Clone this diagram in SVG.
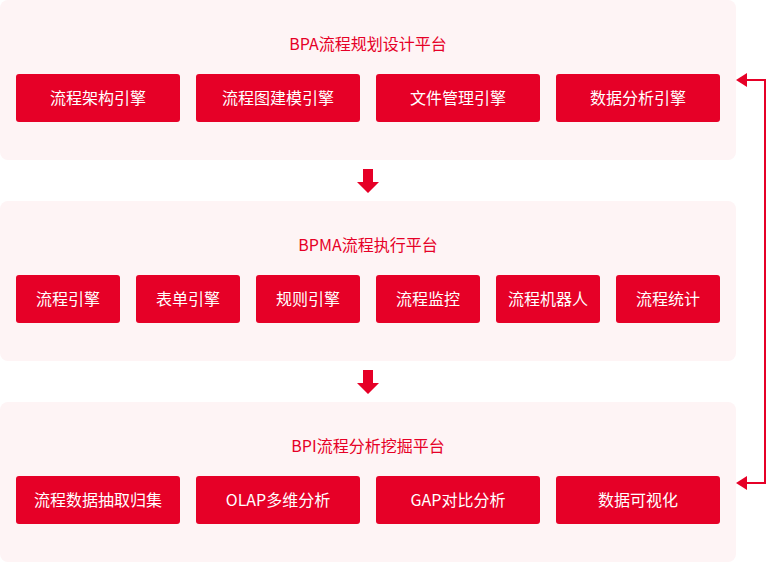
<svg xmlns="http://www.w3.org/2000/svg" width="767" height="563" viewBox="0 0 767 563">
<style>
.panel{fill:#fef4f5}
.box{fill:#e60027}
.title{font-family:"Noto Sans CJK SC","Noto Sans",sans-serif;font-size:16px;fill:#e60027;text-anchor:middle}
.lbl{font-family:"Noto Sans CJK SC","Noto Sans",sans-serif;font-size:16px;fill:#ffffff;text-anchor:middle}
.conn{fill:none;stroke:#e60027;stroke-width:2}
.ar{fill:#e60027}
</style>
<rect width="767" height="563" fill="#ffffff"/>
<g id="panel-bpa">
<rect class="panel" x="0" y="0" width="736" height="160" rx="8"/>
<text class="title" x="368" y="50">BPA流程规划设计平台</text>
</g>
<g id="node-a1"><rect class="box" x="16" y="74" width="164" height="48" rx="3"/><text class="lbl" x="98" y="104">流程架构引擎</text></g>
<g id="node-a2"><rect class="box" x="196" y="74" width="164" height="48" rx="3"/><text class="lbl" x="278" y="104">流程图建模引擎</text></g>
<g id="node-a3"><rect class="box" x="376" y="74" width="164" height="48" rx="3"/><text class="lbl" x="458" y="104">文件管理引擎</text></g>
<g id="node-a4"><rect class="box" x="556" y="74" width="164" height="48" rx="3"/><text class="lbl" x="638" y="104">数据分析引擎</text></g>

<g id="panel-bpma">
<rect class="panel" x="0" y="201" width="736" height="160" rx="8"/>
<text class="title" x="368" y="251">BPMA流程执行平台</text>
</g>
<g id="node-b1"><rect class="box" x="16" y="275" width="104" height="48" rx="3"/><text class="lbl" x="68" y="305">流程引擎</text></g>
<g id="node-b2"><rect class="box" x="136" y="275" width="104" height="48" rx="3"/><text class="lbl" x="188" y="305">表单引擎</text></g>
<g id="node-b3"><rect class="box" x="256" y="275" width="104" height="48" rx="3"/><text class="lbl" x="308" y="305">规则引擎</text></g>
<g id="node-b4"><rect class="box" x="376" y="275" width="104" height="48" rx="3"/><text class="lbl" x="428" y="305">流程监控</text></g>
<g id="node-b5"><rect class="box" x="496" y="275" width="104" height="48" rx="3"/><text class="lbl" x="548" y="305">流程机器人</text></g>
<g id="node-b6"><rect class="box" x="616" y="275" width="104" height="48" rx="3"/><text class="lbl" x="668" y="305">流程统计</text></g>

<g id="panel-bpi">
<rect class="panel" x="0" y="402" width="736" height="160" rx="8"/>
<text class="title" x="368" y="452">BPI流程分析挖掘平台</text>
</g>
<g id="node-c1"><rect class="box" x="16" y="476" width="164" height="48" rx="3"/><text class="lbl" x="98" y="506">流程数据抽取归集</text></g>
<g id="node-c2"><rect class="box" x="196" y="476" width="164" height="48" rx="3"/><text class="lbl" x="278" y="506">OLAP多维分析</text></g>
<g id="node-c3"><rect class="box" x="376" y="476" width="164" height="48" rx="3"/><text class="lbl" x="458" y="506">GAP对比分析</text></g>
<g id="node-c4"><rect class="box" x="556" y="476" width="164" height="48" rx="3"/><text class="lbl" x="638" y="506">数据可视化</text></g>

<g id="connectors">
<polygon class="ar" points="363,169 373,169 373,182 379,182 368,193 357,182 363,182"/>
<polygon class="ar" points="363,370 373,370 373,383 379,383 368,394 357,383 363,383"/>
<polyline class="conn" points="746,80 765,80 765,483 746,483"/>
<polygon class="ar" points="736,80 747,73 747,87"/>
<polygon class="ar" points="736,483 747,476 747,490"/>
</g>
</svg>
